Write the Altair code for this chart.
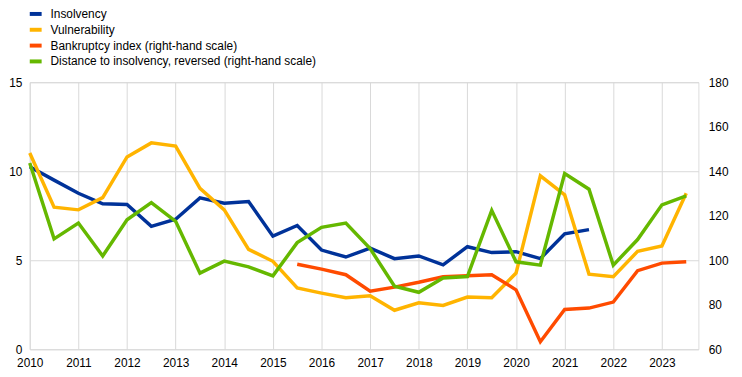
import altair as alt
import pandas as pd

periods = [2010.0, 2010.5, 2011.0, 2011.5, 2012.0, 2012.5, 2013.0, 2013.5,
           2014.0, 2014.5, 2015.0, 2015.5, 2016.0, 2016.5, 2017.0, 2017.5,
           2018.0, 2018.5, 2019.0, 2019.5, 2020.0, 2020.5, 2021.0, 2021.5,
           2022.0, 2022.5, 2023.0, 2023.5]

insolvency = [10.25, 9.5, 8.76, 8.17, 8.13, 6.9, 7.3, 8.5,
              8.2, 8.3, 6.35, 6.95, 5.57, 5.18, 5.68, 5.09,
              5.24, 4.74, 5.76, 5.43, 5.48, 5.09, 6.48, 6.72,
              None, None, None, None]

vulnerability = [11.02, 7.98, 7.83, 8.52, 10.8, 11.59, 11.41, 9.04,
                 7.83, 5.61, 4.94, 3.44, 3.15, 2.89, 3.01, 2.19,
                 2.61, 2.46, 2.93, 2.89, 4.28, 9.74, 8.67, 4.22,
                 4.07, 5.5, 5.8, 8.76]

bankruptcy = [None, None, None, None, None, None, None, None,
              None, None, None, 98.2, 96.0, 93.5, 86.1, 87.9,
              90.1, 92.6, 93.0, 93.5, 86.7, 63.4, 77.9, 78.5,
              81.2, 95.3, 98.7, 99.3]

distance = [143.7, 109.6, 116.7, 101.9, 118.2, 125.9, 117.5, 94.2,
            99.6, 97.0, 93.0, 107.9, 114.8, 116.7, 105.2, 88.3,
            85.6, 92.0, 92.7, 122.4, 99.3, 97.8, 139.0, 131.9,
            97.8, 109.3, 124.9, 128.9]

series_names = ["Insolvency", "Vulnerability",
                "Bankruptcy index (right-hand scale)",
                "Distance to insolvency, reversed (right-hand scale)"]
series_colors = ["#003299", "#ffb400", "#ff4b00", "#65b800"]

left_ticks = [0, 5, 10, 15]
right_ticks = [60, 80, 100, 120, 140, 160, 180]
year_ticks = [2010, 2011, 2012, 2013, 2014, 2015, 2016, 2017, 2018, 2019,
              2020, 2021, 2022, 2023]

def long(values, name):
    return pd.DataFrame({"t": periods, "v": values, "series": name}).dropna()

left_df = pd.concat([long(insolvency, series_names[0]),
                     long(vulnerability, series_names[1])])
right_df = pd.concat([long(bankruptcy, series_names[2]),
                      long(distance, series_names[3])])

x_enc = alt.X("t:Q", scale=alt.Scale(domain=[2010, 2023.75], nice=False, zero=False),
              axis=alt.Axis(values=year_ticks, format="d", title=None, grid=True,
                            gridColor="#d9d9d9", ticks=False, domain=False,
                            labelPadding=8, labelFontSize=12, labelColor="#000000",
                            labelFont="Liberation Sans", labelFlush=False))

color_enc = alt.Color("series:N",
                      scale=alt.Scale(domain=series_names, range=series_colors),
                      legend=alt.Legend(title=None, orient="none", legendX=-2, legendY=-77,
                                        symbolType="stroke", symbolSize=144,
                                        symbolStrokeWidth=4, labelFontSize=12,
                                        labelFont="Liberation Sans", labelColor="#000000",
                                        labelOffset=7, rowPadding=0, padding=0,
                                        labelLimit=600))

left = alt.Chart(left_df).mark_line(strokeWidth=3.5).encode(
    x=x_enc,
    y=alt.Y("v:Q", scale=alt.Scale(domain=[0, 15], nice=False),
            axis=alt.Axis(values=left_ticks, title=None, grid=True, gridColor="#d9d9d9",
                          ticks=False, domain=False, labelPadding=8, labelFontSize=12,
                          labelColor="#000000", labelFont="Liberation Sans", orient="left")),
    color=color_enc,
)

right = alt.Chart(right_df).mark_line(strokeWidth=3.5).encode(
    x=x_enc,
    y=alt.Y("v:Q", scale=alt.Scale(domain=[60, 180], nice=False, zero=False),
            axis=alt.Axis(values=right_ticks, title=None, grid=False,
                          ticks=False, domain=False, labelPadding=10, labelFontSize=12,
                          labelColor="#000000", labelFont="Liberation Sans", orient="right")),
    color=color_enc,
)

chart = alt.layer(left, right).resolve_scale(y="independent").properties(
    width=676, height=270,
    autosize=alt.AutoSizeParams(type="none"),
    padding={"left": 22, "top": 73, "right": 36, "bottom": 22},
).configure_view(stroke="#d9d9d9").configure(background="white")

chart.save("out.html", embed_options={"renderer": "svg", "actions": False})
